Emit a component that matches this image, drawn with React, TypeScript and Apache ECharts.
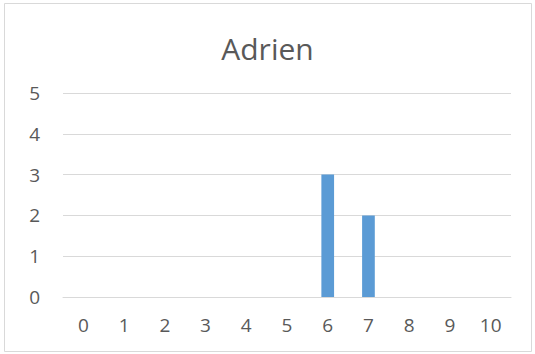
import React, { useEffect, useRef } from "react";
import * as echarts from "echarts";

const titleText = "Adrien";
const categories = ["0", "1", "2", "3", "4", "5", "6", "7", "8", "9", "10"];
const values = [0, 0, 0, 0, 0, 0, 3, 2, 0, 0, 0];
const yTicks = { min: 0, max: 5, interval: 1 };

export default function App() {
  const ref = useRef<HTMLDivElement>(null);
  useEffect(() => {
    if (!ref.current) return;
    const chart = echarts.init(ref.current, null, { renderer: "svg" });
    chart.setOption({
      animation: false,
      backgroundColor: "#ffffff",
      title: {
        text: titleText,
        left: "center",
        top: 28,
        textStyle: {
          fontFamily: "Open Sans",
          fontSize: 30,
          fontWeight: "normal",
          color: "#595959",
        },
      },
      graphic: [
        {
          type: "rect",
          shape: { x: 4.5, y: 3.5, width: 527, height: 348 },
          style: { fill: "none", stroke: "#d9d9d9", lineWidth: 1 },
          silent: true,
        },
      ],
      grid: { left: 63, right: 24, top: 93, bottom: 57, containLabel: false },
      xAxis: {
        type: "category",
        data: categories,
        axisLine: { show: true, lineStyle: { color: "#d9d9d9", width: 1 } },
        axisTick: { show: false },
        axisLabel: {
          margin: 18,
          fontFamily: "Open Sans",
          fontSize: 19,
          color: "#595959",
        },
      },
      yAxis: {
        type: "value",
        min: yTicks.min,
        max: yTicks.max,
        interval: yTicks.interval,
        axisLine: { show: false },
        axisTick: { show: false },
        splitLine: { lineStyle: { color: "#d9d9d9", width: 1 } },
        axisLabel: {
          margin: 23,
          fontFamily: "Open Sans",
          fontSize: 19,
          color: "#595959",
        },
      },
      series: [
        {
          type: "bar",
          data: values,
          barWidth: 12.7,
          itemStyle: { color: "#5b9bd5" },
        },
      ],
    });
    return () => chart.dispose();
  }, []);
  return (
    <div
      ref={ref}
      style={{ position: "fixed", left: 0, top: 0, width: 535, height: 354 }}
    />
  );
}
